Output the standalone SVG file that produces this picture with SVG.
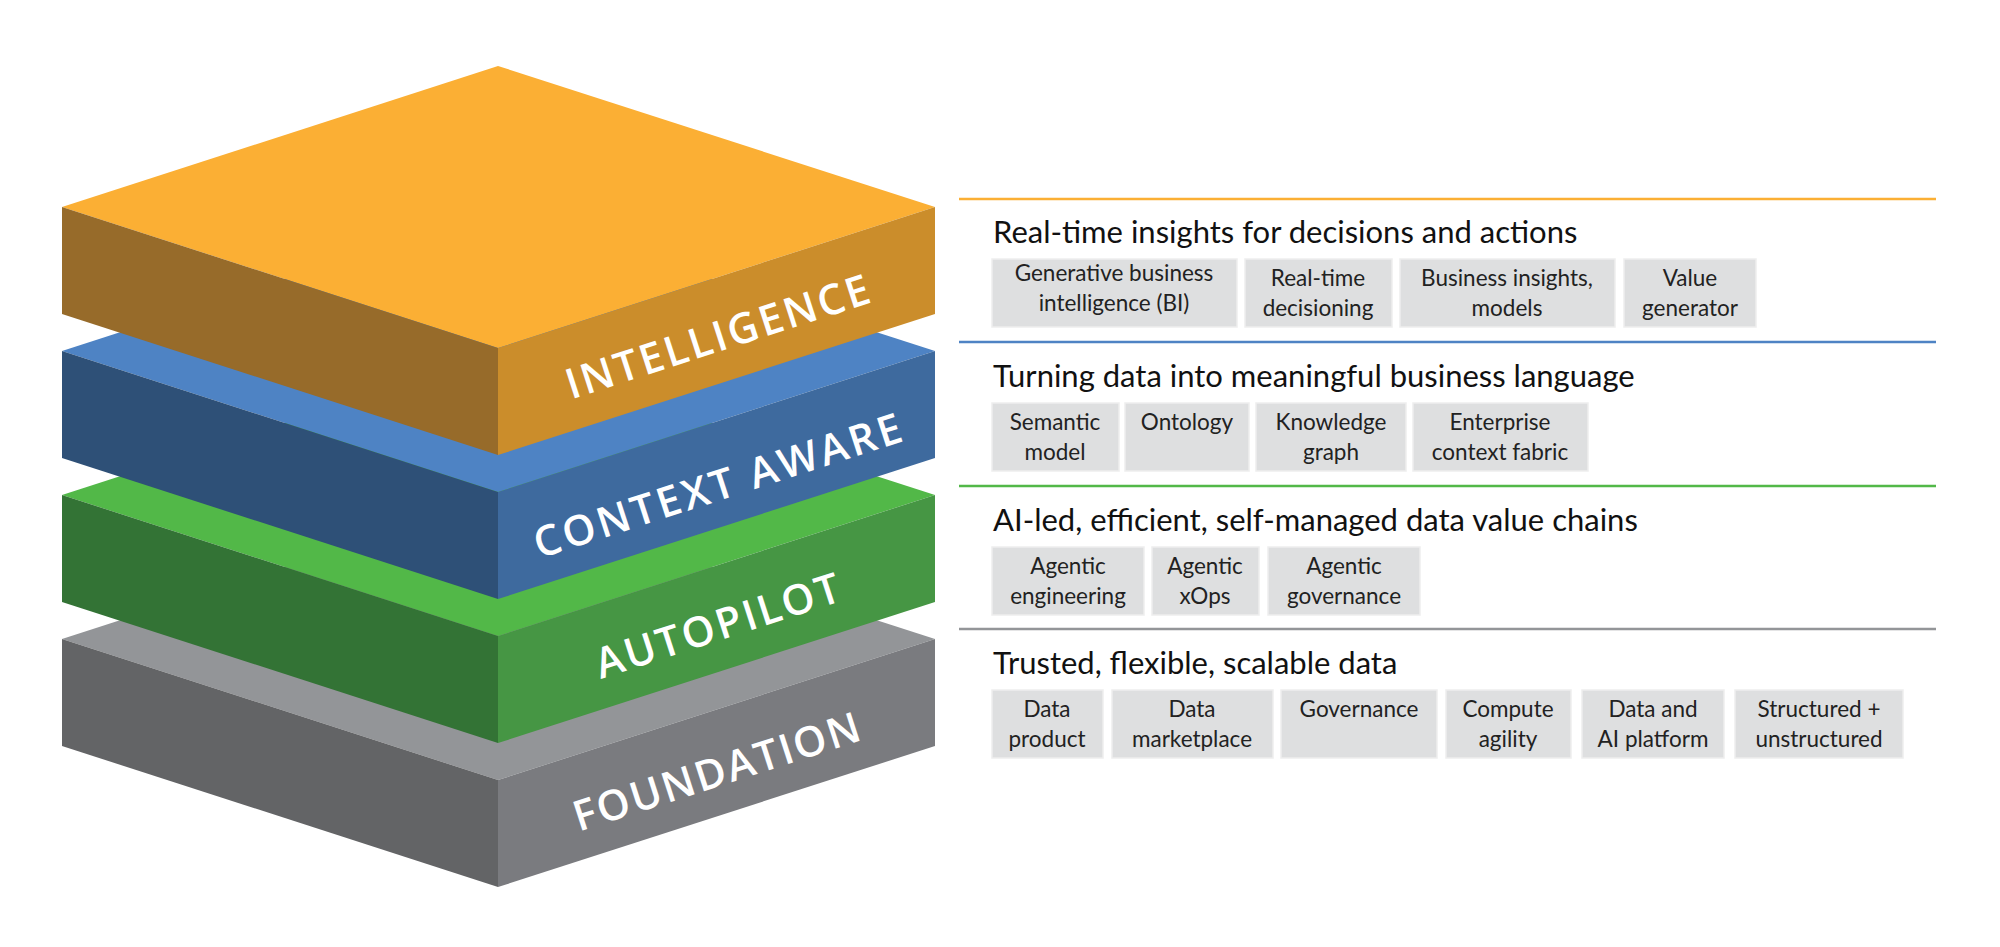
<svg xmlns="http://www.w3.org/2000/svg" width="2000" height="947" viewBox="0 0 2000 947">
<style>
.lbl{font-family:"Open Sans","DejaVu Sans",sans-serif;font-size:42px;fill:#fff;font-weight:600;text-anchor:middle;dominant-baseline:central}
.ttl{font-family:Lato,"Open Sans",sans-serif;font-size:31px;fill:#111}
.bx{fill:#DEDFE0;stroke:#EEEEEE;stroke-width:1.5}
.bt{font-family:Lato,"Open Sans",sans-serif;font-size:22.5px;fill:#222;text-anchor:middle}
</style>
<rect width="2000" height="947" fill="#fff"/>
<g id="layer-foundation">
<polygon points="62,639 498,498 935,639 498,780" fill="#939598"/>
<polygon points="62,639 498,780 498,887 62,746" fill="#636466"/>
<polygon points="498,780 935,639 935,746 498,887" fill="#7A7B7F"/>
<text class="lbl" transform="translate(716,770) rotate(-17.9)" textLength="299" lengthAdjust="spacing">FOUNDATION</text>
</g>
<g id="layer-autopilot">
<polygon points="62,495 498,354 935,495 498,636" fill="#52B848"/>
<polygon points="62,495 498,636 498,743 62,602" fill="#337335"/>
<polygon points="498,636 935,495 935,602 498,743" fill="#469644"/>
<text class="lbl" transform="translate(717,624) rotate(-17.9)" textLength="255" lengthAdjust="spacing">AUTOPILOT</text>
</g>
<g id="layer-context">
<polygon points="62,351 498,210 935,351 498,492" fill="#4E83C4"/>
<polygon points="62,351 498,492 498,599 62,458" fill="#2E5077"/>
<polygon points="498,492 935,351 935,458 498,599" fill="#3E6A9E"/>
<text class="lbl" transform="translate(717,484) rotate(-17.9)" textLength="384" lengthAdjust="spacing">CONTEXT AWARE</text>
</g>
<g id="layer-intelligence">
<polygon points="62,207 498,66 935,207 498,348" fill="#FBAF34"/>
<polygon points="62,207 498,348 498,455 62,314" fill="#976B2A"/>
<polygon points="498,348 935,207 935,314 498,455" fill="#CB8D2B"/>
<text class="lbl" transform="translate(717,335) rotate(-17.9)" textLength="317" lengthAdjust="spacing">INTELLIGENCE</text>
</g>
<g id="connectors">
<line x1="959" y1="199" x2="1936" y2="199" stroke="#FBAF34" stroke-width="2.5"/>
<line x1="959" y1="342" x2="1936" y2="342" stroke="#4E83C4" stroke-width="2.5"/>
<line x1="959" y1="486" x2="1936" y2="486" stroke="#52B848" stroke-width="2.5"/>
<line x1="959" y1="629" x2="1936" y2="629" stroke="#939598" stroke-width="2.5"/>
</g>
<g id="row-intelligence">
<text class="ttl" x="993" y="243">Real-time insights for decisions and actions</text>
<rect class="bx" x="992" y="259" width="245" height="68"/><text class="bt" x="1114" y="281">Generative business</text><text class="bt" x="1114" y="311">intelligence (BI)</text>
<rect class="bx" x="1245" y="259" width="147" height="68"/><text class="bt" x="1318" y="286">Real-time</text><text class="bt" x="1318" y="316">decisioning</text>
<rect class="bx" x="1400" y="259" width="215" height="68"/><text class="bt" x="1507" y="286">Business insights,</text><text class="bt" x="1507" y="316">models</text>
<rect class="bx" x="1624" y="259" width="132" height="68"/><text class="bt" x="1690" y="286">Value</text><text class="bt" x="1690" y="316">generator</text>
</g>
<g id="row-context">
<text class="ttl" x="993" y="387">Turning data into meaningful business language</text>
<rect class="bx" x="992" y="403" width="127" height="68"/><text class="bt" x="1055" y="430">Semantic</text><text class="bt" x="1055" y="460">model</text>
<rect class="bx" x="1125" y="403" width="124" height="68"/><text class="bt" x="1187" y="430">Ontology</text>
<rect class="bx" x="1256" y="403" width="150" height="68"/><text class="bt" x="1331" y="430">Knowledge</text><text class="bt" x="1331" y="460">graph</text>
<rect class="bx" x="1413" y="403" width="175" height="68"/><text class="bt" x="1500" y="430">Enterprise</text><text class="bt" x="1500" y="460">context fabric</text>
</g>
<g id="row-autopilot">
<text class="ttl" x="993" y="531">AI-led, efficient, self-managed data value chains</text>
<rect class="bx" x="992" y="547" width="152" height="68"/><text class="bt" x="1068" y="574">Agentic</text><text class="bt" x="1068" y="604">engineering</text>
<rect class="bx" x="1152" y="547" width="107" height="68"/><text class="bt" x="1205" y="574">Agentic</text><text class="bt" x="1205" y="604">xOps</text>
<rect class="bx" x="1268" y="547" width="152" height="68"/><text class="bt" x="1344" y="574">Agentic</text><text class="bt" x="1344" y="604">governance</text>
</g>
<g id="row-foundation">
<text class="ttl" x="993" y="674">Trusted, flexible, scalable data</text>
<rect class="bx" x="992" y="690" width="111" height="68"/><text class="bt" x="1047" y="717">Data</text><text class="bt" x="1047" y="747">product</text>
<rect class="bx" x="1112" y="690" width="161" height="68"/><text class="bt" x="1192" y="717">Data</text><text class="bt" x="1192" y="747">marketplace</text>
<rect class="bx" x="1281" y="690" width="156" height="68"/><text class="bt" x="1359" y="717">Governance</text>
<rect class="bx" x="1446" y="690" width="125" height="68"/><text class="bt" x="1508" y="717">Compute</text><text class="bt" x="1508" y="747">agility</text>
<rect class="bx" x="1582" y="690" width="142" height="68"/><text class="bt" x="1653" y="717">Data and</text><text class="bt" x="1653" y="747">AI platform</text>
<rect class="bx" x="1735" y="690" width="168" height="68"/><text class="bt" x="1819" y="717">Structured +</text><text class="bt" x="1819" y="747">unstructured</text>
</g>
</svg>
